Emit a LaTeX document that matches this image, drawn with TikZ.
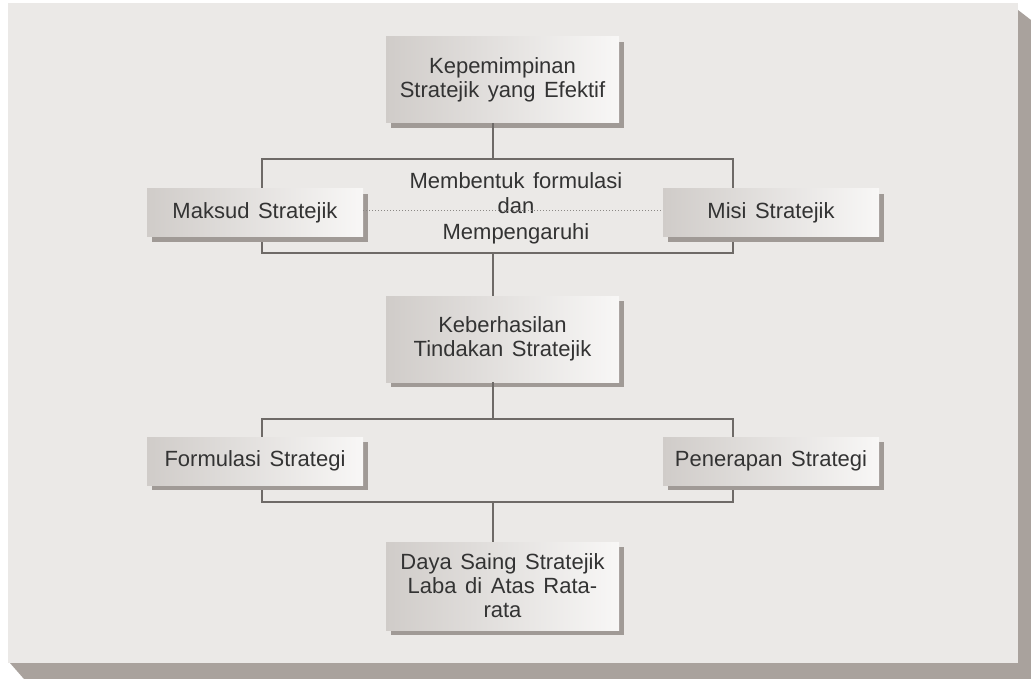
\documentclass[tikz,border=0pt]{standalone}
\usepackage{fontspec}
\setmainfont[WordSpace=1.4]{Liberation Sans}
\usetikzlibrary{shadows}
\definecolor{panelc}{HTML}{EBE9E7}
\definecolor{panelsh}{HTML}{A9A29D}
\definecolor{boxl}{HTML}{D0CCC9}
\definecolor{boxr}{HTML}{F8F7F6}
\definecolor{boxsh}{HTML}{A09A96}
\definecolor{linec}{HTML}{6E6A67}
\definecolor{textc}{HTML}{333333}
\tikzset{
  lbl/.style={font=\fontsize{22}{24}\selectfont, text=textc, align=center, inner sep=0pt},
  boxnode/.style={lbl, left color=boxl, right color=boxr, draw=none,
    general shadow={fill=boxsh, shadow xshift=5pt, shadow yshift=-5pt}},
  bigbox/.style={boxnode, minimum width=233pt, minimum height=86pt},
  sidebox/.style={boxnode, minimum width=216pt, minimum height=48pt},
  conn/.style={draw=linec, line width=1.1pt},
  dotconn/.style={draw=linec!80, line width=1pt, dotted},
}
\begin{document}
\begin{tikzpicture}[x=1pt,y=-1pt]
\useasboundingbox (0,0) rectangle (1031,679);
\fill[white] (0,0) rectangle (1031,679);
% panel and its shadow
\fill[panelsh] (1018,10) -- (1031,20) -- (1031,679) -- (24,679) -- (10,663) -- (1018,663) -- cycle;
\fill[panelc] (8,3) rectangle (1018,663);
% brackets
\node[conn, minimum width=471pt, minimum height=94pt, inner sep=0pt] (br1) at (497.5,206) {};
\node[conn, minimum width=471pt, minimum height=83pt, inner sep=0pt] (br2) at (497.5,460.5) {};
% boxes
\node[bigbox] (top) at (502.5,80) {Kepemimpinan\\Stratejik yang Efektif};
\node[sidebox] (maksud) at (255,213) {Maksud Stratejik};
\node[sidebox] (misi) at (771,213) {Misi Stratejik};
\node[lbl, font=\fontsize{22}{25.5}\selectfont] (mid) at (516,208) {Membentuk formulasi\\dan\\Mempengaruhi};
\node[bigbox] (keb) at (502.5,339) {Keberhasilan\\Tindakan Stratejik};
\node[sidebox] (form) at (255,461) {Formulasi Strategi};
\node[sidebox] (pen) at (771,461) {Penerapan Strategi};
\node[bigbox, minimum height=88pt] (daya) at (502.5,586) {Daya Saing Stratejik\\Laba di Atas Rata-\\rata};
% connectors
\coordinate (c1) at (493,159);
\coordinate (c2) at (493,253);
\coordinate (c3) at (493,419);
\coordinate (c4) at (493,502);
\draw[conn] (c1) -- (c1 |- top.south);
\draw[conn] (c2) -- (c2 |- keb.north);
\draw[conn] (c3) -- (c3 |- keb.south);
\draw[conn] (c4) -- (c4 |- daya.north);
\draw[dotconn] ([yshift=2pt]maksud.east) -- ([yshift=2pt]misi.west);
\end{tikzpicture}
\end{document}
